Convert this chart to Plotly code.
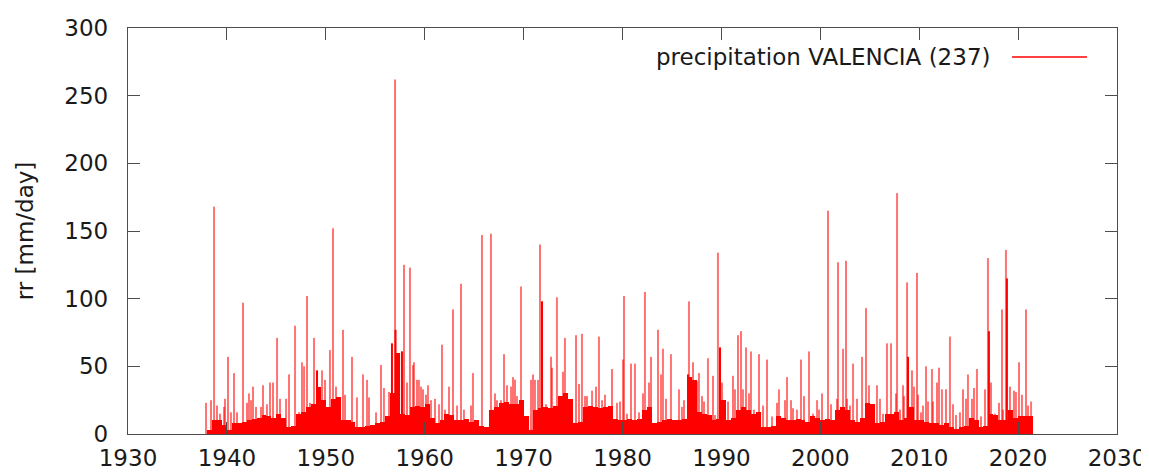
import plotly.graph_objects as go

# --- data -----------------------------------------------------------------
# dense daily "floor" (mm/day), two values per year from 1938.0 (half-year blocks)
base_start_year = 1938.0
base_values = [
    3, 10,  10, 7,  3, 8,  8, 9,  10, 11,  12, 14,  13, 12,  15, 12,  5, 6,  15, 16,   # 1938-1947
    20, 22,  35, 25,  20, 26,  27, 10,  10, 9,  5, 5,  6, 7,  8, 9,  13, 30,  60, 15,   # 1948-1957
    14, 20,  21, 20,  22, 12,  8, 10,  15, 14,  10, 10,  11, 9,  10, 6,  5, 18,  20, 23, # 1958-1967
    24, 22,  22, 25,  13, 3,  18, 19,  20, 19,  21, 28,  30, 26,  8, 9,  20, 21,  20, 19, # 1968-1977
    20, 21,  11, 10,  10, 11,  10, 11,  18, 20,  8, 9,  10, 11,  10, 10,  11, 42,  40, 16, # 1978-1987
    15, 14,  10, 11,  25, 10,  12, 18,  20, 18,  15, 16,  5, 5,  6, 13,  12, 10,  10, 11, # 1988-1997
    10, 9,  13, 12,  10, 11,  10, 18,  20, 18,  10, 9,  12, 23,  22, 8,  9, 15,  15, 16,  # 1998-2007
    10, 12,  20, 10,  10, 9,  8, 8,  7, 8,  5, 4,  5, 6,  12, 10,  5, 6,  15, 14,        # 2008-2017
    10, 10,  18, 12,  13, 13,  13,                                                      # 2018-2021
]

# individual rain days (decimal year, mm/day)
spike_years = [
    1937.89, 1938.39, 1938.70, 1939.00, 1939.30, 1939.71, 1939.81, 1940.11, 1940.41, 1940.72,
    1941.02, 1941.63, 1942.03, 1942.23, 1942.44, 1942.64, 1942.94, 1943.45, 1943.65, 1944.05,
    1944.36, 1944.66, 1945.07, 1945.37, 1945.98, 1946.28, 1946.89, 1947.29, 1947.59, 1947.80,
    1948.10, 1948.40, 1948.81, 1949.11, 1949.62, 1949.92, 1950.42, 1950.73, 1951.03, 1951.74,
    1951.94, 1952.65, 1953.15, 1953.76, 1954.17, 1954.37, 1955.08, 1955.58, 1955.88, 1956.39,
    1957.00, 1957.30, 1957.70, 1957.91, 1958.21, 1958.51, 1958.82, 1958.92, 1959.22, 1959.42,
    1959.63, 1959.83, 1960.13, 1960.33, 1960.64, 1961.04, 1961.45, 1961.75, 1962.05, 1962.46,
    1962.86, 1963.27, 1963.67, 1963.97, 1964.68, 1964.88, 1965.79, 1966.70, 1967.11, 1967.31,
    1967.71, 1968.02, 1968.32, 1968.73, 1968.93, 1969.13, 1969.33, 1969.74, 1969.94, 1970.75,
    1970.95, 1971.15, 1971.46, 1971.66, 1972.26, 1972.77, 1972.87, 1973.37, 1973.68, 1973.98,
    1974.18, 1974.49, 1974.69, 1975.30, 1975.60, 1975.90, 1976.21, 1976.41, 1976.92, 1977.32,
    1977.62, 1977.93, 1978.23, 1978.94, 1979.44, 1979.75, 1980.05, 1980.15, 1980.45, 1980.86,
    1981.26, 1981.67, 1982.07, 1982.27, 1982.68, 1982.88, 1983.59, 1983.89, 1984.09, 1984.40,
    1984.90, 1985.71, 1986.01, 1986.22, 1986.72, 1987.13, 1987.53, 1987.73, 1988.04, 1988.24,
    1988.64, 1989.15, 1989.35, 1989.65, 1990.06, 1990.36, 1990.67, 1991.17, 1991.37, 1991.68,
    1991.98, 1992.18, 1992.49, 1992.79, 1992.99, 1993.29, 1993.80, 1994.21, 1994.61, 1995.12,
    1995.62, 1995.82, 1996.43, 1996.63, 1997.04, 1997.24, 1997.64, 1998.05, 1998.35, 1998.86,
    1999.26, 1999.67, 1999.87, 2000.17, 2000.78, 2001.08, 2001.69, 2001.79, 2002.30, 2002.60,
    2002.70, 2003.00, 2003.31, 2003.71, 2004.22, 2004.62, 2004.92, 2005.33, 2005.73, 2006.03,
    2006.34, 2006.74, 2007.15, 2007.65, 2007.76, 2008.06, 2008.36, 2008.46, 2008.77, 2009.27,
    2009.47, 2009.78, 2009.88, 2010.18, 2010.38, 2010.69, 2010.89, 2011.29, 2011.39, 2011.80,
    2012.00, 2012.30, 2012.71, 2013.11, 2013.42, 2013.72, 2014.12, 2014.43, 2014.73, 2014.93,
    2015.34, 2015.54, 2015.84, 2016.25, 2016.65, 2016.95, 2017.26, 2017.66, 2018.07, 2018.37,
    2018.47, 2018.77, 2019.18, 2019.58, 2019.78, 2020.09, 2020.39, 2020.80, 2021.00, 2021.31,
]
spike_values = [
    23, 25, 168, 21, 15, 20, 26, 57, 16, 45,
    16, 97, 23, 30, 25, 35, 20, 20, 36, 22,
    38, 38, 71, 26, 26, 44, 80, 16, 53, 50,
    102, 23, 71, 47, 47, 40, 62, 152, 35, 77,
    29, 57, 27, 44, 40, 27, 16, 51, 34, 31,
    262, 18, 61, 125, 38, 123, 51, 53, 40, 40,
    35, 33, 29, 36, 25, 26, 22, 66, 18, 35,
    92, 21, 111, 18, 21, 45, 147, 148, 30, 25,
    25, 59, 36, 35, 42, 40, 28, 109, 13, 40,
    44, 40, 40, 140, 22, 57, 49, 101, 25, 46,
    71, 25, 20, 73, 37, 74, 28, 28, 32, 35,
    72, 25, 29, 48, 23, 24, 55, 102, 15, 52,
    52, 16, 30, 105, 38, 57, 77, 44, 63, 26,
    59, 33, 20, 25, 98, 53, 39, 45, 28, 24,
    56, 43, 14, 134, 38, 21, 24, 43, 33, 73,
    76, 33, 64, 30, 61, 18, 59, 21, 55, 13,
    23, 33, 25, 42, 25, 19, 18, 55, 28, 61,
    15, 25, 18, 30, 165, 22, 26, 127, 63, 128,
    26, 21, 52, 26, 57, 93, 36, 10, 36, 26,
    15, 67, 67, 30, 178, 18, 36, 28, 112, 47,
    35, 119, 29, 16, 21, 50, 24, 48, 24, 38,
    49, 33, 33, 72, 22, 14, 16, 33, 26, 44,
    26, 34, 48, 13, 33, 130, 38, 15, 23, 92,
    18, 136, 35, 32, 31, 53, 29, 92, 21, 24,
]

# clusters of heavy days that render as solid red columns
solid_years = [1949.11, 1956.69, 1957.05, 1957.70, 1971.86, 1986.62, 1989.86, 2008.87, 2017.05, 2018.87]
solid_values = [47, 67, 77, 61, 98, 44, 64, 57, 76, 115]

legend_label = "precipitation VALENCIA (237)"
x_ticks = [1930, 1940, 1950, 1960, 1970, 1980, 1990, 2000, 2010, 2020, 2030]
y_ticks = [0, 50, 100, 150, 200, 250, 300]

# --- figure -----------------------------------------------------------------
def impulses(xs, ys):
    px, py = [], []
    for x, y in zip(xs, ys):
        px += [x, x, None]
        py += [0, y, None]
    return px, py

base_x = [base_start_year + 0.25 + 0.5 * i for i in range(len(base_values))]

fig = go.Figure()
fig.add_trace(go.Bar(x=base_x, y=base_values, width=0.5,
                     marker=dict(color="#ff0000", line=dict(width=0)),
                     showlegend=False, hoverinfo="skip"))
sx, sy = impulses(spike_years, spike_values)
fig.add_trace(go.Scatter(x=sx, y=sy, mode="lines",
                         line=dict(color="rgba(255,0,0,0.55)", width=2),
                         showlegend=False, hoverinfo="skip"))
qx, qy = impulses(solid_years, solid_values)
fig.add_trace(go.Scatter(x=qx, y=qy, mode="lines",
                         line=dict(color="#ff0000", width=2),
                         showlegend=False, hoverinfo="skip"))

font = dict(family="DejaVu Sans", size=23, color="#1a1a1a")
axis_common = dict(showline=True, mirror="ticks", linecolor="#4d4d4d", linewidth=1.3,
                   ticks="inside", ticklen=12, tickcolor="#4d4d4d", tickwidth=1.3,
                   showgrid=False, zeroline=False, tickfont=font, automargin=False)

# the page body adds an 8 px offset, so the figure is 8 px smaller than the window
fig.update_layout(
    width=1141, height=465,
    margin=dict(l=120, r=32, t=20, b=39),
    paper_bgcolor="white", plot_bgcolor="white",
    bargap=0, showlegend=False,
    xaxis=dict(range=[1930, 2030], tickvals=x_ticks, ticktext=[str(v) for v in x_ticks],
               ticklabelstandoff=3, **axis_common),
    yaxis=dict(range=[0, 300], tickvals=y_ticks, ticktext=[str(v) for v in y_ticks],
               ticklabelstandoff=14,
               title=dict(text="rr [mm/day]", font=font, standoff=24), **axis_common),
)

# legend (text left, sample line right, as in the original)
fig.add_annotation(x=0.8746, y=0.9286, xref="paper", yref="paper", text=legend_label,
                   showarrow=False, xanchor="right", yanchor="middle", font=font)
fig.add_shape(type="line", xref="paper", yref="paper", x0=0.8938, x1=0.9697,
              y0=0.9286, y1=0.9286, line=dict(color="#ff0000", width=1.3))

fig.write_html("out.html")
